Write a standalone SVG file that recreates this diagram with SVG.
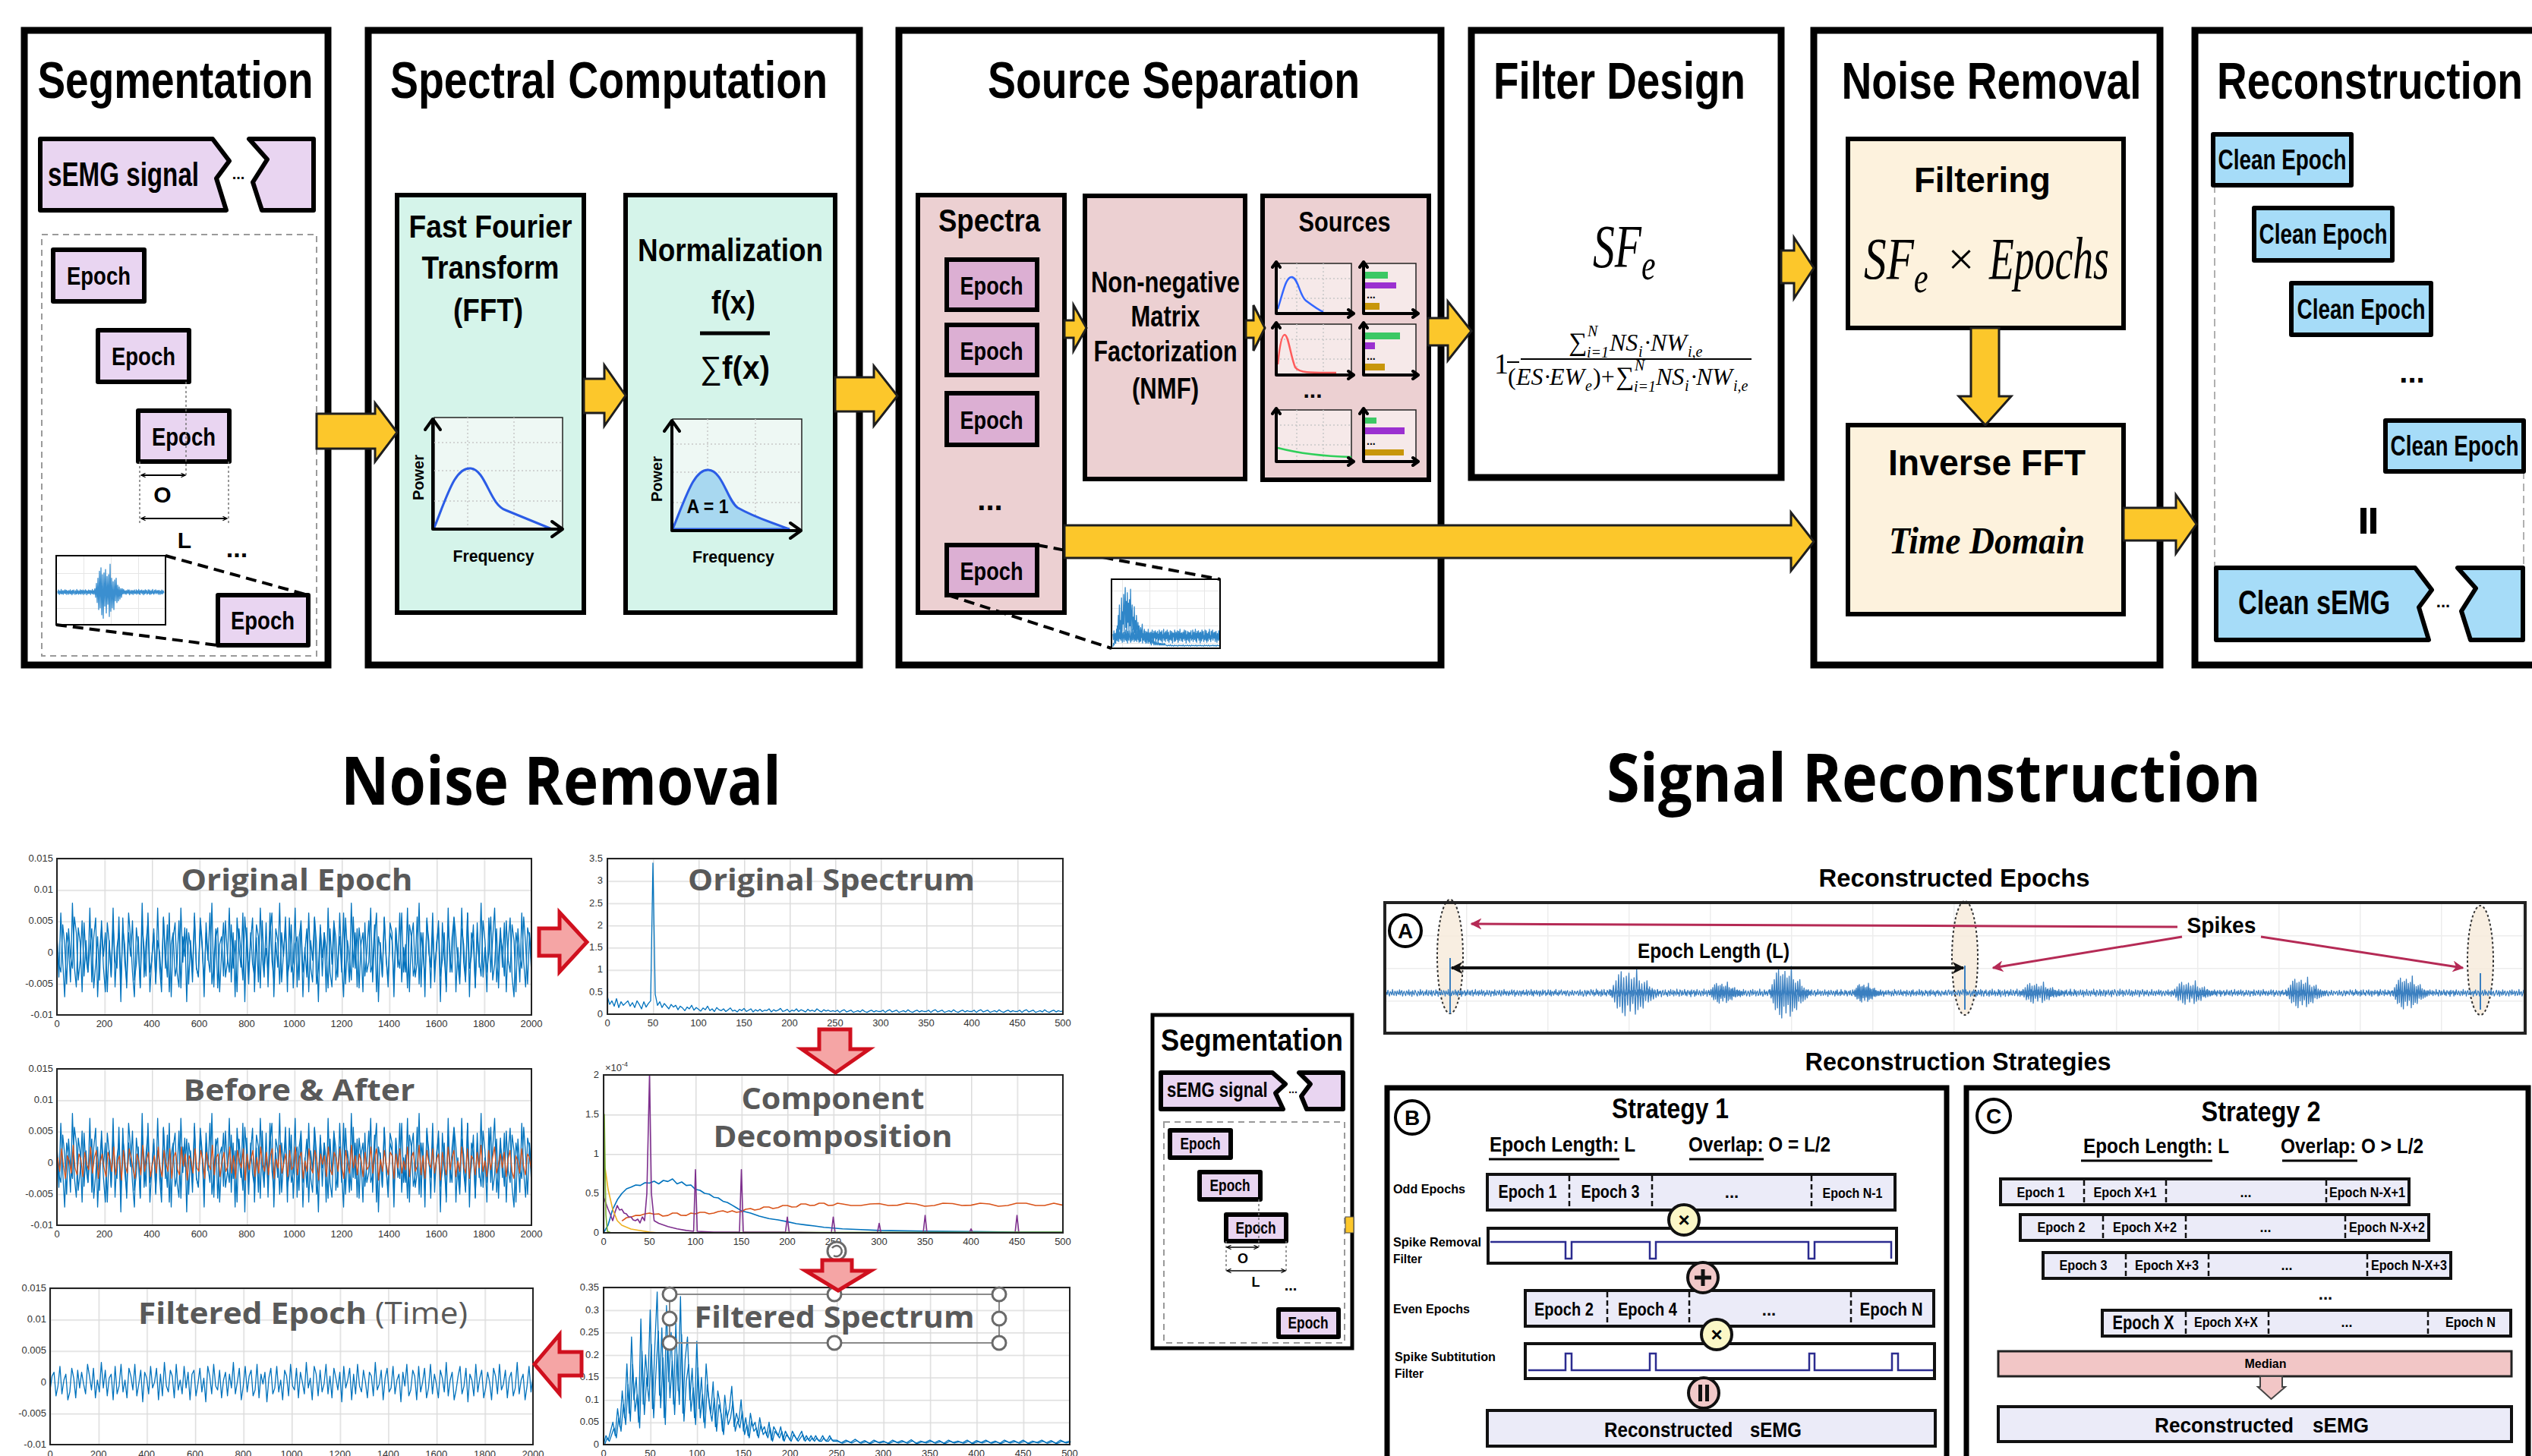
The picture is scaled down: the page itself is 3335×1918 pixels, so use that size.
<svg xmlns="http://www.w3.org/2000/svg" width="3335" height="1918" viewBox="0 0 3335 1918">
<defs>
<style>
.pn{fill:#fff;stroke:#000;stroke-width:9}
.c{font-family:"Liberation Sans",Arial,Helvetica,sans-serif;font-weight:700;fill:#000}
.ttl{font-size:68px;text-anchor:middle}
.cal{font-family:"Open Sans","Noto Sans","Liberation Sans",sans-serif;font-weight:700}
.m{font-family:"Liberation Serif","Times New Roman",serif;font-style:italic;fill:#000}
.u{font-family:"Liberation Serif","Times New Roman",serif;fill:#000}
.up{font-style:normal}
.ya{fill:#fcc72b;stroke:#1e1e1e;stroke-width:3}
.ra{fill:#f5a5a5;stroke:#d0101e;stroke-width:5}
.lav{fill:#e9d5f1;stroke:#000;stroke-width:6;stroke-linejoin:round}
.pk{fill:#ecd0d2;stroke:#000;stroke-width:6}
.pe{fill:#dcafd3;stroke:#000;stroke-width:6}
.mint{fill:#d5f4ea;stroke:#000;stroke-width:6}
.crm{fill:#fdf2dd;stroke:#000;stroke-width:6}
.sky{fill:#a6dcf8;stroke:#000;stroke-width:6;stroke-linejoin:round}
.dash{fill:none;stroke:#9a9a9a;stroke-width:2;stroke-dasharray:8 6}
.dot{stroke:#777;stroke-width:1.5;stroke-dasharray:3 3;fill:none}
.gd{stroke:#c8c8c8;stroke-width:1.5;stroke-dasharray:2 3;fill:none}
.tk{font-family:"Liberation Sans",Arial,sans-serif;font-size:13px;fill:#333}
.box{fill:none;stroke:#222;stroke-width:2}
.sig{fill:none;stroke-width:1.3;vector-effect:non-scaling-stroke;stroke-linejoin:round}
.ln{fill:none;stroke-width:1.6;stroke-linejoin:round}
.bar{fill:#ebebf8;stroke:#111;stroke-width:4}
.dv{stroke:#111;stroke-width:2.5;stroke-dasharray:7 4}
.ptl{font-family:"Open Sans","Noto Sans","Liberation Sans",sans-serif;font-weight:700;font-size:40px;fill:#595959}
.axk{fill:none;stroke:#000;stroke-width:4;stroke-linecap:round;stroke-linejoin:round}
.mini{fill:#f6e9e9;stroke:#222;stroke-width:1.5}
.pulse{fill:none;stroke:#2b2b8f;stroke-width:2.5}
.hd{fill:#fff;stroke:#6a6a6a;stroke-width:3}
</style>
<marker id="mr" viewBox="0 0 10 10" refX="9" refY="5" markerWidth="5" markerHeight="5" orient="auto-start-reverse"><path d="M0,0 L10,5 L0,10 L3,5 z" fill="#b52a55"/></marker>
<marker id="mb" viewBox="0 0 10 10" refX="9" refY="5" markerWidth="4" markerHeight="4" orient="auto-start-reverse"><path d="M0,0 L10,5 L0,10 L3,5 z" fill="#111"/></marker>
<marker id="mo" viewBox="0 0 10 10" refX="9" refY="5" markerWidth="7" markerHeight="7" orient="auto-start-reverse" markerUnits="userSpaceOnUse"><path d="M1,1 L9,5 L1,9" fill="none" stroke="#000" stroke-width="1.6"/></marker>
<pattern id="g1" patternUnits="userSpaceOnUse" x="75" y="1131" width="62.5" height="41.2"><path d="M0,0V41.2M0,0H62.5" stroke="#dcdcdc" stroke-width="3" fill="none"/></pattern>
<pattern id="g3" patternUnits="userSpaceOnUse" x="75" y="1408" width="62.5" height="41.2"><path d="M0,0V41.2M0,0H62.5" stroke="#dcdcdc" stroke-width="3" fill="none"/></pattern>
<pattern id="g6" patternUnits="userSpaceOnUse" x="66" y="1697" width="63.6" height="41.2"><path d="M0,0V41.2M0,0H63.6" stroke="#dcdcdc" stroke-width="3" fill="none"/></pattern>
<pattern id="g2" patternUnits="userSpaceOnUse" x="800" y="1131" width="60" height="29.286"><path d="M0,0V29.3M0,0H60" stroke="#dcdcdc" stroke-width="3" fill="none"/></pattern>
<pattern id="g4" patternUnits="userSpaceOnUse" x="795" y="1416" width="60.5" height="52"><path d="M0,0V52M0,0H60.5" stroke="#dcdcdc" stroke-width="3" fill="none"/></pattern>
<pattern id="g5" patternUnits="userSpaceOnUse" x="795" y="1696" width="61.4" height="29.571"><path d="M0,0V29.6M0,0H61.4" stroke="#dcdcdc" stroke-width="3" fill="none"/></pattern>
<pattern id="gA" patternUnits="userSpaceOnUse" x="1824" y="1189" width="107" height="43"><path d="M0,0V43M0,0H107" stroke="#ededed" stroke-width="3" fill="none"/></pattern>
<pattern id="gt" patternUnits="userSpaceOnUse" x="74" y="732" width="36" height="23"><path d="M0,0V23M0,0H36" stroke="#e6e6e6" stroke-width="2" fill="none"/></pattern>
<clipPath id="clipThumb"><rect x="1464" y="763" width="143" height="91"/></clipPath>
<!-- noise sequence, x = sample index, y = amplitude -->
<polyline id="nA" class="sig" points="0,3 1,-5 2,8 3,-2 4,-9 5,4 6,1 7,-6 8,10 9,-3 10,-7 11,5 12,2 13,-8 14,6 15,-1 16,-4 17,9 18,-6 19,3 20,7 21,-9 22,0 23,5 24,-3 25,-8 26,6 27,2 28,-5 29,9 30,-7 31,1 32,4 33,-10 34,7 35,-2 36,-6 37,8 38,3 39,-4 40,-9 41,5 42,1 43,-7 44,10 45,-5 46,2 47,6 48,-8 49,-1 50,4 51,-6 52,9 53,-3 54,-8 55,7 56,0 57,-5 58,8 59,-9 60,3 61,6 62,-4 63,-7 64,9 65,-2 66,5 67,-10 68,4 69,1 70,-6 71,8 72,-3 73,-5 74,7 75,2 76,-9 77,6 78,-1 79,-4 80,10 81,-7 82,3 83,5 84,-8 85,0 86,6 87,-5 88,-2 89,9 90,-6 91,4 92,-9 93,7 94,1 95,-3 96,8 97,-10 98,5 99,-4 100,2 101,7 102,-8 103,3 104,-6 105,9 106,-1 107,-5 108,6 109,-7 110,4 111,8 112,-9 113,2 114,-3 115,10 116,-6 117,0 118,5 119,-8 120,7 121,-4 122,-2 123,9 124,-7 125,3 126,6 127,-9 128,1 129,-5 130,8 131,-3 132,-6 133,7 134,2 135,-10 136,5 137,-1 138,4 139,-8 140,9 141,-4 142,-7 143,6 144,3 145,-5 146,8 147,-2 148,-9 149,7 150,0 151,-6 152,10 153,-3 154,4 155,-7 156,5 157,1 158,-8 159,6 160,-4 161,-2 162,9 163,-6 164,3 165,8 166,-10 167,2 168,-5 169,7 170,-1 171,-7 172,6 173,4 174,-9 175,5 176,-3 177,8 178,-6 179,1 180,-4 181,9 182,-8 183,3 184,6 185,-5 186,-2 187,10 188,-7 189,4 190,-9 191,7 192,0 193,-3 194,8 195,-6 196,2 197,5 198,-10 199,6 200,-1 201,-7 202,9 203,-4 204,3 205,7 206,-8 207,1 208,-5 209,9 210,-2 211,-6 212,8 213,-9 214,4 215,2 216,-7 217,6 218,-3 219,10 220,-5 221,1 222,-8 223,7 224,-4 225,3 226,9 227,-6 228,-1 229,5 230,-3 231,6 232,-8 233,2 234,7 235,-5 236,-9 237,4 238,1 239,-6 240,8 241,-2 242,-7 243,5 244,3 245,-4"/>
<!-- short burst -->
<polyline id="bB" class="sig" points="0,0 1,2 2,-3 3,5 4,-6 5,8 6,-10 7,12 8,-9 9,14 10,-13 11,10 12,-15 13,11 14,-8 15,13 16,-12 17,9 18,-7 19,10 20,-14 21,16 22,-11 23,8 24,-9 25,6 26,-10 27,7 28,-5 29,8 30,-6 31,4 32,-5 33,3 34,-4 35,2 36,-3 37,2 38,-1 39,1 40,0"/>
<!-- raw magnitude spectrum, bin = 2.5 Hz, value in 0.01 units -->
<polyline id="sO" class="sig" points="0,40 1,22 2,30 3,18 4,35 5,15 6,28 7,20 8,25 9,30 10,18 11,26 12,15 13,30 14,22 15,12 16,28 17,16 18,24 19,30 20,340 21,45 22,20 23,28 24,15 25,24 26,18 27,12 28,22 29,16 30,20 31,10 32,18 33,14 34,8 35,16 36,12 37,20 38,9 39,15 40,11 41,7 42,14 43,10 44,18 45,8 46,12 47,6 48,15 49,10 50,8 51,12 52,6 53,10 54,14 55,7 56,9 57,5 58,11 59,8 60,13 61,6 62,9 63,12 64,5 65,10 66,7 67,11 68,6 69,9 70,8 71,12 72,5 73,10 74,7 75,9 76,13 77,6 78,8 79,11 80,5 81,9 82,7 83,12 84,6 85,10 86,8 87,5 88,11 89,7 90,9 91,6 92,12 93,8 94,5 95,10 96,7 97,9 98,6 99,8 100,6 101,9 102,4 103,8 104,10 105,5 106,7 107,9 108,4 109,6 110,8 111,5 112,10 113,6 114,4 115,7 116,9 117,5 118,8 119,6 120,6 121,9 122,4 123,8 124,10 125,5 126,7 127,9 128,4 129,6 130,8 131,5 132,10 133,6 134,4 135,7 136,9 137,5 138,8 139,6 140,6 141,9 142,4 143,8 144,10 145,5 146,7 147,9 148,4 149,6 150,8 151,5 152,10 153,6 154,4 155,7 156,9 157,5 158,8 159,6 160,6 161,9 162,4 163,8 164,10 165,5 166,7 167,9 168,4 169,6 170,8 171,5 172,10 173,6 174,4 175,7 176,9 177,5 178,8 179,6 180,6 181,9 182,4 183,8 184,10 185,5 186,7 187,9 188,4 189,6 190,8 191,5 192,10 193,6 194,4 195,7 196,9 197,5 198,8 199,6 200,7"/>
<!-- filtered spectrum -->
<polyline id="sF" class="sig" points="0,0 1,2 2,1 3,3 4,5 5,2 6,8 7,4 8,12 9,6 10,18 11,7 12,24 13,10 14,15 15,5 16,28 17,9 18,20 19,13 20,30 21,8 22,22 23,34 24,11 25,26 26,6 27,31 28,14 29,25 30,9 31,27 32,12 33,33 34,7 35,19 36,24 37,10 38,17 39,6 40,23 41,8 42,15 43,5 44,18 45,11 46,7 47,14 48,4 49,12 50,9 51,3 52,11 53,6 54,8 55,13 56,4 57,7 58,5 59,10 60,3 61,6 62,2 63,7 64,4 65,5 66,2 67,6 68,3 69,4 70,2 71,5 72,1 73,4 74,3 75,2 76,4 77,1 78,3 79,2 80,1 81,3 82,2 83,1 84,2 85,3 86,1 87,2 88,1 89,2 90,1 91,2 92,1 93,1 94,2 95,1 96,1 97,2 98,1 99,1 100,1 102,0.4 104,1 106,0.5 108,1.2 110,0.4 112,0.9 114,0.3 116,1 118,0.5 120,0.8 122,0.3 124,1 126,0.5 128,0.9 130,0.4 132,1.1 134,0.3 136,0.8 138,0.5 140,1 142,0.4 144,0.9 146,0.3 148,1 150,0.5 152,0.8 154,0.4 156,1 158,0.3 160,0.9 162,0.5 164,1 166,0.4 168,0.8 170,0.3 172,1 174,0.5 176,0.9 178,0.4 180,1 182,0.3 184,0.8 186,0.5 188,1 190,0.4 192,0.9 194,0.3 196,1 198,0.5 200,0.8"/>
</defs>

<rect width="3335" height="1918" fill="#fff"/>

<!-- ===== top pipeline ===== -->
<g id="segmentation">
  <rect class="pn" x="32" y="40" width="400" height="836"/>
  <text class="c ttl" x="231" y="129" textLength="363" lengthAdjust="spacingAndGlyphs">Segmentation</text>
  <path class="lav" d="M53,183 H280 L302,212 L285,235 L298,277 H53 Z"/>
  <path class="lav" d="M328,183 H413 V277 H345 L333,240 L352,210 Z"/>
  <text class="c" font-size="44" transform="translate(63,245) scale(0.754,1)">sEMG signal</text>
  <text class="c" x="314" y="236" font-size="20" text-anchor="middle">...</text>
  <rect class="dash" x="55" y="309" width="362" height="555"/>
  <g id="seg-epochs">
    <rect class="lav" x="70" y="329" width="120" height="68"/>
    <text class="c" x="130" y="375" font-size="34" text-anchor="middle" textLength="84" lengthAdjust="spacingAndGlyphs">Epoch</text>
    <rect class="lav" x="129" y="435" width="120" height="68"/>
    <text class="c" x="189" y="481" font-size="34" text-anchor="middle" textLength="84" lengthAdjust="spacingAndGlyphs">Epoch</text>
    <rect class="lav" x="182" y="541" width="120" height="67"/>
    <text class="c" x="242" y="587" font-size="34" text-anchor="middle" textLength="84" lengthAdjust="spacingAndGlyphs">Epoch</text>
    <rect class="lav" x="287" y="784" width="119" height="66"/>
    <text class="c" x="346" y="829" font-size="34" text-anchor="middle" textLength="84" lengthAdjust="spacingAndGlyphs">Epoch</text>
  </g>
  <path class="dot" d="M245,503V626 M184,608V690 M301,608V690"/>
  <line x1="186" y1="626" x2="244" y2="626" stroke="#000" stroke-width="2" marker-start="url(#mo)" marker-end="url(#mo)"/>
  <text class="c" x="214" y="662" font-size="30" text-anchor="middle" font-weight="400">O</text>
  <line x1="186" y1="683" x2="299" y2="683" stroke="#000" stroke-width="2" marker-start="url(#mo)" marker-end="url(#mo)"/>
  <text class="c" x="243" y="722" font-size="30" text-anchor="middle">L</text>
  <text class="c" x="312" y="734" font-size="34" text-anchor="middle">...</text>
  <g id="seg-thumb">
    <rect x="74" y="732" width="144" height="91" fill="url(#gt)"/>
    <use href="#nA" stroke="#3b8fd0" transform="translate(76,780) scale(0.571,-0.35)"/>
    <use href="#bB" stroke="#3b8fd0" transform="translate(124,780) scale(1.0,-2.3)"/>
    <rect x="74" y="732" width="144" height="91" fill="none" stroke="#000" stroke-width="2"/>
  </g>
  <path d="M218,732 L406,784 M74,823 L287,850" stroke="#000" stroke-width="4" stroke-dasharray="14 8" fill="none"/>
</g>

<g id="spectral-computation">
  <rect class="pn" x="485" y="40" width="647" height="836"/>
  <text class="c ttl" x="802" y="129" textLength="576" lengthAdjust="spacingAndGlyphs">Spectral Computation</text>
  <g id="fft">
    <rect class="mint" x="523" y="257" width="246" height="550"/>
    <text class="c" x="646" y="313" font-size="42" text-anchor="middle" textLength="215" lengthAdjust="spacingAndGlyphs">Fast Fourier</text>
    <text class="c" x="646" y="367" font-size="42" text-anchor="middle" textLength="181" lengthAdjust="spacingAndGlyphs">Transform</text>
    <text class="c" x="643" y="423" font-size="42" text-anchor="middle" textLength="92" lengthAdjust="spacingAndGlyphs">(FFT)</text>
    <rect x="572" y="550" width="169" height="147" fill="#eef8f4" stroke="#222" stroke-width="1.5"/>
    <path class="gd" d="M616,550V697 M677,550V697 M572,583H741 M572,620H741 M572,660H741"/>
    <path d="M572,695 C590,650 600,615 620,617 C640,619 645,665 666,672 C690,682 710,690 727,697" fill="none" stroke="#2b5ce6" stroke-width="3"/>
    <path class="axk" d="M570,697V553 M560,566L570,552L580,566 M570,697H740 M727,687L741,697L727,707"/>
    <text class="c" transform="translate(558,629) rotate(-90)" font-size="20" text-anchor="middle">Power</text>
    <text class="c" x="650" y="740" font-size="22" text-anchor="middle" textLength="107" lengthAdjust="spacingAndGlyphs">Frequency</text>
  </g>
  <g id="normalization">
    <rect class="mint" x="824" y="257" width="276" height="550"/>
    <text class="c" x="962" y="344" font-size="42" text-anchor="middle" textLength="244" lengthAdjust="spacingAndGlyphs">Normalization</text>
    <text class="c" x="966" y="413" font-size="42" text-anchor="middle" textLength="58" lengthAdjust="spacingAndGlyphs">f(x)</text>
    <line x1="922" y1="439" x2="1014" y2="439" stroke="#000" stroke-width="5"/>
    <text class="c" x="968" y="499" font-size="42" text-anchor="middle" textLength="92" lengthAdjust="spacingAndGlyphs"><tspan font-weight="400">∑</tspan>f(x)</text>
    <rect x="886" y="552" width="170" height="147" fill="#eef8f4" stroke="#222" stroke-width="1.5"/>
    <path class="gd" d="M932,552V699 M995,552V699 M886,585H1056 M886,622H1056 M886,662H1056"/>
    <path d="M886,697 C905,650 915,618 933,619 C952,620 958,660 972,669 C995,682 1020,690 1040,697 Z" fill="#a8d8f0" stroke="#2b5ce6" stroke-width="3"/>
    <path class="axk" d="M885,699V555 M875,568L885,554L895,568 M885,699H1054 M1041,689L1055,699L1041,709"/>
    <text class="c" x="932" y="676" font-size="26" text-anchor="middle" textLength="55" lengthAdjust="spacingAndGlyphs">A = 1</text>
    <text class="c" transform="translate(872,631) rotate(-90)" font-size="20" text-anchor="middle">Power</text>
    <text class="c" x="966" y="741" font-size="22" text-anchor="middle" textLength="108" lengthAdjust="spacingAndGlyphs">Frequency</text>
  </g>
</g>

<g id="source-separation">
  <rect class="pn" x="1184" y="40" width="714" height="836"/>
  <text class="c ttl" x="1546" y="129" textLength="490" lengthAdjust="spacingAndGlyphs">Source Separation</text>
  <g id="spectra">
    <rect class="pk" x="1209" y="257" width="193" height="550"/>
    <text class="c" x="1303" y="305" font-size="42" text-anchor="middle" textLength="134" lengthAdjust="spacingAndGlyphs">Spectra</text>
    <rect class="pe" x="1247" y="342" width="119" height="66"/>
    <text class="c" x="1306" y="388" font-size="34" text-anchor="middle" textLength="83" lengthAdjust="spacingAndGlyphs">Epoch</text>
    <rect class="pe" x="1247" y="428" width="119" height="66"/>
    <text class="c" x="1306" y="474" font-size="34" text-anchor="middle" textLength="83" lengthAdjust="spacingAndGlyphs">Epoch</text>
    <rect class="pe" x="1247" y="518" width="119" height="68"/>
    <text class="c" x="1306" y="565" font-size="34" text-anchor="middle" textLength="83" lengthAdjust="spacingAndGlyphs">Epoch</text>
    <text class="c" x="1304" y="672" font-size="40" text-anchor="middle">...</text>
    <rect class="pe" x="1247" y="718" width="119" height="66"/>
    <text class="c" x="1306" y="764" font-size="34" text-anchor="middle" textLength="83" lengthAdjust="spacingAndGlyphs">Epoch</text>
  </g>
  <g id="nmf">
    <rect class="pk" x="1429" y="258" width="211" height="373"/>
    <text class="c" font-size="38" text-anchor="middle" transform="translate(1535,385) scale(0.815,1)">Non-negative</text>
    <text class="c" x="1535" y="430" font-size="38" text-anchor="middle" textLength="91" lengthAdjust="spacingAndGlyphs">Matrix</text>
    <text class="c" font-size="38" text-anchor="middle" transform="translate(1535,476) scale(0.8,1)">Factorization</text>
    <text class="c" x="1535" y="525" font-size="38" text-anchor="middle" textLength="88" lengthAdjust="spacingAndGlyphs">(NMF)</text>
  </g>
  <g id="sources">
    <rect class="pk" x="1663" y="258" width="219" height="374"/>
    <text class="c" x="1771" y="305" font-size="36" text-anchor="middle" textLength="121" lengthAdjust="spacingAndGlyphs">Sources</text>
    <rect class="mini" x="1681" y="347" width="99" height="66"/>
    <rect class="mini" x="1796" y="347" width="69" height="66"/>
    <rect class="mini" x="1681" y="427" width="99" height="67"/>
    <rect class="mini" x="1796" y="427" width="69" height="67"/>
    <rect class="mini" x="1681" y="540" width="99" height="68"/>
    <rect class="mini" x="1796" y="540" width="69" height="68"/>
    <path class="gd" d="M1708,347V413 M1743,347V413 M1681,367H1780 M1681,393H1780 M1708,427V494 M1743,427V494 M1681,447H1780 M1681,473H1780 M1708,540V608 M1743,540V608 M1681,560H1780 M1681,586H1780"/>
    <path d="M1683,407 C1690,385 1694,363 1702,365 C1710,367 1712,390 1720,396 C1728,402 1736,408 1743,411" fill="none" stroke="#3366ff" stroke-width="2.5"/>
    <path d="M1683,480 C1685,460 1688,441 1692,441 C1697,441 1700,470 1706,484 C1712,492 1730,491 1760,491" fill="none" stroke="#ff5a5a" stroke-width="2.5"/>
    <path d="M1683,590 C1710,597 1740,601 1780,602" fill="none" stroke="#2fcf5a" stroke-width="2.5"/>
    <rect x="1797" y="358" width="31" height="9" fill="#3cc864"/>
    <rect x="1797" y="372" width="42" height="8" fill="#9b30d0"/>
    <rect x="1797" y="399" width="20" height="9" fill="#c8960a"/>
    <rect x="1797" y="438" width="47" height="9" fill="#3cc864"/>
    <rect x="1797" y="451" width="14" height="9" fill="#9b30d0"/>
    <rect x="1797" y="479" width="27" height="9" fill="#c8960a"/>
    <rect x="1797" y="550" width="16" height="8" fill="#3cc864"/>
    <rect x="1797" y="563" width="53" height="9" fill="#9b30d0"/>
    <rect x="1797" y="592" width="52" height="8" fill="#c8960a"/>
    <text class="c" x="1800" y="393" font-size="14">...</text>
    <text class="c" x="1800" y="474" font-size="14">...</text>
    <text class="c" x="1800" y="586" font-size="14">...</text>
    <path class="axk" stroke-width="3" d="M1681,413V346 M1676,352L1681,345L1686,352 M1681,413H1782 M1776,408L1783,413L1776,418 M1796,413V346 M1791,352L1796,345L1801,352 M1796,413H1867 M1861,408L1868,413L1861,418 M1681,494V426 M1676,432L1681,425L1686,432 M1681,494H1782 M1776,489L1783,494L1776,499 M1796,494V426 M1791,432L1796,425L1801,432 M1796,494H1867 M1861,489L1868,494L1861,499 M1681,608V539 M1676,545L1681,538L1686,545 M1681,608H1782 M1776,603L1783,608L1776,613 M1796,608V539 M1791,545L1796,538L1801,545 M1796,608H1867 M1861,603L1868,608L1861,613"/>
    <text class="c" x="1729" y="524" font-size="30" text-anchor="middle">...</text>
  </g>
  <g id="spectrum-thumb">
    <rect x="1464" y="763" width="143" height="91" fill="url(#gt)"/>
    <g clip-path="url(#clipThumb)">
      <use href="#sF" stroke="#2f86c8" transform="translate(1466,852) scale(0.7,-2.3)"/>
      <use href="#nA" stroke="#2f86c8" transform="translate(1466,838) scale(0.58,-0.9)"/>
    </g>
    <rect x="1464" y="763" width="143" height="91" fill="none" stroke="#000" stroke-width="2"/>
  </g>
  <path d="M1366,718 L1607,763 M1249,784 L1464,854" stroke="#000" stroke-width="4" stroke-dasharray="14 8" fill="none"/>
</g>

<g id="filter-design">
  <rect class="pn" x="1938" y="40" width="408" height="589"/>
  <text class="c ttl" x="2133" y="130" textLength="332" lengthAdjust="spacingAndGlyphs">Filter Design</text>
  <text class="m" font-size="80" transform="translate(2098,352) scale(0.72,1)">SF<tspan font-size="58" dy="16">e</tspan></text>
  <g id="sf-formula">
    <text class="u" x="1968" y="492" font-size="38">1</text>
    <line x1="1985" y1="477" x2="2001" y2="477" stroke="#000" stroke-width="2"/>
    <line x1="2003" y1="473" x2="2307" y2="473" stroke="#000" stroke-width="2"/>
    <text class="m" font-size="32"><tspan class="up" x="2066" y="462" font-size="34">∑</tspan><tspan x="2091" y="443" font-size="20">N</tspan><tspan x="2090" y="471" font-size="20">i=1</tspan><tspan x="2120" y="462">NS</tspan><tspan x="2158" y="470" font-size="20">i</tspan><tspan class="up" x="2165" y="462">·</tspan><tspan x="2174" y="462">NW</tspan><tspan x="2223" y="470" font-size="20">i,e</tspan></text>
    <text class="m" font-size="32"><tspan class="up" x="1986" y="507">(</tspan><tspan x="1997" y="507">ES</tspan><tspan class="up" x="2033" y="507">·</tspan><tspan x="2041" y="507">EW</tspan><tspan x="2088" y="515" font-size="20">e</tspan><tspan class="up" x="2098" y="507">)+</tspan><tspan class="up" x="2128" y="507" font-size="34">∑</tspan><tspan x="2153" y="488" font-size="20">N</tspan><tspan x="2152" y="516" font-size="20">i=1</tspan><tspan x="2181" y="507">NS</tspan><tspan x="2219" y="515" font-size="20">i</tspan><tspan class="up" x="2226" y="507">·</tspan><tspan x="2234" y="507">NW</tspan><tspan x="2283" y="515" font-size="20">i,e</tspan></text>
  </g>
</g>

<g id="noise-removal">
  <rect class="pn" x="2389" y="40" width="456" height="836"/>
  <text class="c ttl" x="2623" y="130" textLength="395" lengthAdjust="spacingAndGlyphs">Noise Removal</text>
  <g id="filtering">
    <rect class="crm" x="2434" y="183" width="363" height="249"/>
    <text class="c" x="2611" y="253" font-size="46" text-anchor="middle" textLength="180" lengthAdjust="spacingAndGlyphs">Filtering</text>
    <text class="m" font-size="78" transform="translate(2455,367) scale(0.76,1)">SF<tspan font-size="56" dy="18">e</tspan></text>
    <text class="u" x="2583" y="362" font-size="62" text-anchor="middle">×</text>
    <text class="m" font-size="78" transform="translate(2620,367) scale(0.688,1)">Epochs</text>
  </g>
  <g id="inverse-fft">
    <rect class="crm" x="2434" y="560" width="363" height="249"/>
    <text class="c" x="2617" y="626" font-size="48" text-anchor="middle" textLength="260" lengthAdjust="spacingAndGlyphs">Inverse FFT</text>
    <text class="m" x="2617" y="729" font-size="50" font-weight="700" text-anchor="middle" textLength="258" lengthAdjust="spacingAndGlyphs">Time Domain</text>
  </g>
</g>

<g id="reconstruction">
  <rect class="pn" x="2891" y="40" width="470" height="836"/>
  <text class="c" font-size="68" transform="translate(2920,130) scale(0.808,1)">Reconstruction</text>
  <path d="M2917,244V746 M3324,621V746" stroke="#b0b0b0" stroke-width="2" stroke-dasharray="10 6" fill="none"/>
  <rect class="sky" x="2915" y="177" width="182" height="67"/>
  <text class="c" font-size="36" text-anchor="middle" transform="translate(3006,223) scale(0.775,1)">Clean Epoch</text>
  <rect class="sky" x="2969" y="274" width="182" height="69"/>
  <text class="c" font-size="36" text-anchor="middle" transform="translate(3060,321) scale(0.775,1)">Clean Epoch</text>
  <rect class="sky" x="3018" y="373" width="184" height="68"/>
  <text class="c" font-size="36" text-anchor="middle" transform="translate(3110,420) scale(0.775,1)">Clean Epoch</text>
  <text class="c" x="3177" y="504" font-size="40" text-anchor="middle">...</text>
  <rect class="sky" x="3142" y="554" width="182" height="67"/>
  <text class="c" font-size="36" text-anchor="middle" transform="translate(3233,600) scale(0.775,1)">Clean Epoch</text>
  <rect x="3109" y="669" width="8" height="34" fill="#000"/>
  <rect x="3122" y="669" width="8" height="34" fill="#000"/>
  <path class="sky" d="M2919,748 H3181 L3203,777 L3186,800 L3199,843 H2919 Z"/>
  <path class="sky" d="M3237,748 H3323 V843 H3254 L3242,805 L3261,775 Z"/>
  <text class="c" font-size="44" transform="translate(2948,809) scale(0.78,1)">Clean sEMG</text>
  <text class="c" x="3218" y="800" font-size="22" text-anchor="middle">...</text>
</g>

<!-- ===== bottom-left: noise removal plots ===== -->
<text class="cal" x="739" y="1060" font-size="88" text-anchor="middle" textLength="580" lengthAdjust="spacingAndGlyphs">Noise Removal</text>

<g id="plot-original-epoch">
  <rect x="75" y="1131" width="625" height="206" fill="url(#g1)"/>
  <use href="#nA" stroke="#0072bd" transform="translate(75,1254.6) scale(2.551,-6.5)"/>
  <use href="#nA" stroke="#0072bd" transform="translate(700,1254.6) scale(-2.551,5.2)"/>
  <rect class="box" x="75" y="1131" width="625" height="206"/>
  <text class="tk" text-anchor="middle"><tspan x="75" y="1353">0</tspan><tspan x="137.5" y="1353">200</tspan><tspan x="200" y="1353">400</tspan><tspan x="262.5" y="1353">600</tspan><tspan x="325" y="1353">800</tspan><tspan x="387.5" y="1353">1000</tspan><tspan x="450" y="1353">1200</tspan><tspan x="512.5" y="1353">1400</tspan><tspan x="575" y="1353">1600</tspan><tspan x="637.5" y="1353">1800</tspan><tspan x="700" y="1353">2000</tspan></text>
  <text class="tk" text-anchor="end"><tspan x="70" y="1135">0.015</tspan><tspan x="70" y="1176">0.01</tspan><tspan x="70" y="1217">0.005</tspan><tspan x="70" y="1259">0</tspan><tspan x="70" y="1300">-0.005</tspan><tspan x="70" y="1341">-0.01</tspan></text>
  <text class="ptl" x="391" y="1173" text-anchor="middle" textLength="305" lengthAdjust="spacingAndGlyphs">Original Epoch</text>
</g>

<g id="plot-original-spectrum">
  <rect x="800" y="1131" width="600" height="205" fill="url(#g2)"/>
  <use href="#sO" stroke="#0072bd" transform="translate(800,1336) scale(3,-0.5857)"/>
  <rect class="box" x="800" y="1131" width="600" height="205"/>
  <text class="tk" text-anchor="middle"><tspan x="800" y="1352">0</tspan><tspan x="860" y="1352">50</tspan><tspan x="920" y="1352">100</tspan><tspan x="980" y="1352">150</tspan><tspan x="1040" y="1352">200</tspan><tspan x="1100" y="1352">250</tspan><tspan x="1160" y="1352">300</tspan><tspan x="1220" y="1352">350</tspan><tspan x="1280" y="1352">400</tspan><tspan x="1340" y="1352">450</tspan><tspan x="1400" y="1352">500</tspan></text>
  <text class="tk" text-anchor="end"><tspan x="794" y="1135">3.5</tspan><tspan x="794" y="1164">3</tspan><tspan x="794" y="1194">2.5</tspan><tspan x="794" y="1223">2</tspan><tspan x="794" y="1252">1.5</tspan><tspan x="794" y="1281">1</tspan><tspan x="794" y="1311">0.5</tspan><tspan x="794" y="1340">0</tspan></text>
  <text class="ptl" x="1095" y="1173" text-anchor="middle" textLength="378" lengthAdjust="spacingAndGlyphs">Original Spectrum</text>
</g>

<g id="plot-before-after">
  <rect x="75" y="1408" width="625" height="206" fill="url(#g3)"/>
  <use href="#nA" stroke="#0072bd" transform="translate(75,1531.6) scale(2.551,-6.5)"/>
  <use href="#nA" stroke="#0072bd" transform="translate(700,1531.6) scale(-2.551,5.2)"/>
  <use href="#nA" stroke="#d95319" transform="translate(76,1531.6) scale(2.546,-2.3)"/>
  <rect class="box" x="75" y="1408" width="625" height="206"/>
  <text class="tk" text-anchor="middle"><tspan x="75" y="1630">0</tspan><tspan x="137.5" y="1630">200</tspan><tspan x="200" y="1630">400</tspan><tspan x="262.5" y="1630">600</tspan><tspan x="325" y="1630">800</tspan><tspan x="387.5" y="1630">1000</tspan><tspan x="450" y="1630">1200</tspan><tspan x="512.5" y="1630">1400</tspan><tspan x="575" y="1630">1600</tspan><tspan x="637.5" y="1630">1800</tspan><tspan x="700" y="1630">2000</tspan></text>
  <text class="tk" text-anchor="end"><tspan x="70" y="1412">0.015</tspan><tspan x="70" y="1453">0.01</tspan><tspan x="70" y="1494">0.005</tspan><tspan x="70" y="1536">0</tspan><tspan x="70" y="1577">-0.005</tspan><tspan x="70" y="1618">-0.01</tspan></text>
  <text class="ptl" x="394" y="1450" text-anchor="middle" textLength="305" lengthAdjust="spacingAndGlyphs">Before &amp; After</text>
</g>

<g id="plot-components">
  <rect x="795" y="1416" width="605" height="208" fill="url(#g4)"/>
  <polyline class="ln" stroke="#0072bd" points="795,1624 801,1613.6 807.1,1592.8 813.2,1580.3 819.2,1572 825.3,1566 831.3,1563.7 837.4,1561 843.4,1561.6 849.5,1558 855.5,1558.5 861.6,1556 867.6,1559.5 873.7,1555 879.7,1556.4 885.8,1553 891.8,1559.5 897.9,1557 903.9,1561.6 910,1561 916,1566.8 922,1568 928.1,1572 934,1573 940.2,1577.2 946,1578 952.3,1582.4 958,1584 964.4,1587.6 970,1591 976.5,1594.9 988.6,1598 1000,1602 1012.8,1605.3 1025,1607 1037,1609.4 1049,1612 1061.2,1613.6 1073,1615 1085.4,1616.7 1109.6,1618.8 1133.8,1619.8 1158,1620.9 1218.5,1621.9 1279,1622.4 1339.5,1623 1400,1623"/>
  <polyline class="ln" stroke="#d95319" points="819.2,1608.4 825.3,1604 831.3,1603.2 837.4,1601 843.4,1601.1 849.5,1599 855.5,1598 861.6,1599.5 867.6,1599 873,1602 879.7,1601.1 885.8,1598 891.8,1598 897,1601 903.9,1601.1 910,1598 916,1599 922,1597 928.1,1597 934,1599 940.2,1598 946,1596 952.3,1595 958,1597 964.4,1594.9 970,1597 976.5,1596 982,1593 988.6,1592 994,1594 1000.7,1592.8 1006,1590 1012.8,1590 1018,1592 1024.9,1590.7 1031,1588 1037,1588 1043,1590 1049.1,1589.7 1055,1586 1061.2,1586 1067,1588 1073.3,1587.6 1079,1585 1085.4,1585 1091,1588 1097.5,1587.6 1103,1585 1109.6,1586 1121,1588 1133.8,1588 1146,1586 1158,1585.5 1170,1588 1182.2,1587.6 1194,1585 1206.4,1586 1218,1589 1230.6,1588 1242,1585 1254.8,1585.5 1267,1588 1279,1587.6 1291,1585 1303.2,1586 1315,1589 1327.4,1588 1339,1585 1351.6,1585 1364,1588 1375.8,1588 1388,1585 1400,1587.6"/>
  <polyline class="ln" stroke="#7e2f8e" points="795,1577 798,1585 801,1593 804,1600 807,1608 810,1597 813,1588 816,1594 819,1593 822,1598 825,1599 828,1603 831,1603 834,1607 837,1608 840,1606 843,1611 846,1603 849,1608 852,1572 855.5,1416 858,1572 861.6,1608 867.6,1611.5 879.7,1615.7 891.8,1618.8 903.9,1620.9 913.6,1622 916,1540.8 918.4,1622 940,1623 974,1623 976.5,1540.8 979,1623 1034.6,1623 1037,1603.2 1039.4,1623 1095,1624 1097.5,1603.2 1100,1624 1155.6,1624 1158,1611.5 1160.4,1624 1216,1624 1218.5,1601 1221,1624 1276.6,1624 1279,1618.8 1281.4,1624 1337,1624 1339.5,1601 1342,1624 1400,1624"/>
  <polyline class="ln" stroke="#edb120" points="795,1536 797.4,1541 801,1567 807,1593 813,1608 819,1614 831,1619 843,1621 855.5,1623 867.6,1624"/>
  <polyline class="ln" stroke="#77ac30" points="795,1624 796,1468 798,1600 800,1622 805,1624 1400,1623"/>
  <rect class="box" x="795" y="1416" width="605" height="208"/>
  <text class="tk" text-anchor="middle"><tspan x="795" y="1640">0</tspan><tspan x="855.5" y="1640">50</tspan><tspan x="916" y="1640">100</tspan><tspan x="976.5" y="1640">150</tspan><tspan x="1037" y="1640">200</tspan><tspan x="1097.5" y="1640">250</tspan><tspan x="1158" y="1640">300</tspan><tspan x="1218.5" y="1640">350</tspan><tspan x="1279" y="1640">400</tspan><tspan x="1339.5" y="1640">450</tspan><tspan x="1400" y="1640">500</tspan></text>
  <text class="tk" text-anchor="end"><tspan x="789" y="1420">2</tspan><tspan x="789" y="1472">1.5</tspan><tspan x="789" y="1524">1</tspan><tspan x="789" y="1576">0.5</tspan><tspan x="789" y="1628">0</tspan></text>
  <text class="tk" x="797" y="1411" font-size="12">×10<tspan font-size="9" dy="-6">-4</tspan></text>
  <text class="ptl" x="1097" y="1461" font-size="37" text-anchor="middle" textLength="241" lengthAdjust="spacingAndGlyphs">Component</text>
  <text class="ptl" x="1097" y="1511" font-size="37" text-anchor="middle" textLength="315" lengthAdjust="spacingAndGlyphs">Decomposition</text>
</g>

<g id="plot-filtered-spectrum">
  <rect x="795" y="1696" width="614" height="207" fill="url(#g5)"/>
  <use href="#sF" stroke="#0072bd" transform="translate(795,1903) scale(3.07,-5.914)"/>
  <use href="#sF" stroke="#0072bd" transform="translate(796.5,1903) scale(3.07,-4.4)"/>
  <rect class="box" x="795" y="1696" width="614" height="207"/>
  <text class="tk" text-anchor="middle"><tspan x="795" y="1919">0</tspan><tspan x="856.4" y="1919">50</tspan><tspan x="917.8" y="1919">100</tspan><tspan x="979.2" y="1919">150</tspan><tspan x="1040.6" y="1919">200</tspan><tspan x="1102" y="1919">250</tspan><tspan x="1163.4" y="1919">300</tspan><tspan x="1224.8" y="1919">350</tspan><tspan x="1286.2" y="1919">400</tspan><tspan x="1347.6" y="1919">450</tspan><tspan x="1409" y="1919">500</tspan></text>
  <text class="tk" text-anchor="end"><tspan x="789" y="1700">0.35</tspan><tspan x="789" y="1730">0.3</tspan><tspan x="789" y="1759">0.25</tspan><tspan x="789" y="1789">0.2</tspan><tspan x="789" y="1818">0.15</tspan><tspan x="789" y="1848">0.1</tspan><tspan x="789" y="1877">0.05</tspan><tspan x="789" y="1907">0</tspan></text>
  <text class="ptl" x="1099" y="1749" text-anchor="middle" textLength="369" lengthAdjust="spacingAndGlyphs">Filtered Spectrum</text>
  <g id="selection-handles">
    <rect x="882" y="1705" width="434" height="64" fill="none" stroke="#8a8a8a" stroke-width="2"/>
    <line x1="1101" y1="1660" x2="1099" y2="1705" stroke="#8a8a8a" stroke-width="2"/>
    <circle cx="1102" cy="1648" r="12" fill="#fff" stroke="#6a6a6a" stroke-width="3"/>
    <path d="M1096,1644 A7,7 0 1 1 1098,1654" fill="none" stroke="#6a6a6a" stroke-width="2.5"/>
    <circle class="hd" cx="882" cy="1705" r="9"/><circle class="hd" cx="1099" cy="1705" r="9"/><circle class="hd" cx="1316" cy="1705" r="9"/>
    <circle class="hd" cx="882" cy="1737" r="9"/><circle class="hd" cx="1316" cy="1737" r="9"/>
    <circle class="hd" cx="882" cy="1769" r="9"/><circle class="hd" cx="1099" cy="1769" r="9"/><circle class="hd" cx="1316" cy="1769" r="9"/>
  </g>
</g>

<g id="plot-filtered-epoch">
  <rect x="66" y="1697" width="636" height="206" fill="url(#g6)"/>
  <use href="#nA" stroke="#0072bd" transform="translate(702,1820.6) scale(-2.596,-2.6)"/>
  <rect class="box" x="66" y="1697" width="636" height="206"/>
  <text class="tk" text-anchor="middle"><tspan x="66" y="1920">0</tspan><tspan x="129.6" y="1920">200</tspan><tspan x="193.2" y="1920">400</tspan><tspan x="256.8" y="1920">600</tspan><tspan x="320.4" y="1920">800</tspan><tspan x="384" y="1920">1000</tspan><tspan x="447.6" y="1920">1200</tspan><tspan x="511.2" y="1920">1400</tspan><tspan x="574.8" y="1920">1600</tspan><tspan x="638.4" y="1920">1800</tspan><tspan x="702" y="1920">2000</tspan></text>
  <text class="tk" text-anchor="end"><tspan x="61" y="1701">0.015</tspan><tspan x="61" y="1742">0.01</tspan><tspan x="61" y="1783">0.005</tspan><tspan x="61" y="1825">0</tspan><tspan x="61" y="1866">-0.005</tspan><tspan x="61" y="1907">-0.01</tspan></text>
  <text class="ptl" x="182" y="1744" textLength="434" lengthAdjust="spacingAndGlyphs">Filtered Epoch <tspan font-weight="400">(Time)</tspan></text>
</g>

<!-- ===== bottom-right: signal reconstruction ===== -->
<text class="cal" x="2547" y="1056" font-size="88" text-anchor="middle" textLength="862" lengthAdjust="spacingAndGlyphs">Signal Reconstruction</text>

<g id="segmentation-small">
  <rect x="1518" y="1337" width="263" height="439" fill="#fff" stroke="#000" stroke-width="5"/>
  <text class="c" x="1649" y="1384" font-size="40" text-anchor="middle" textLength="240" lengthAdjust="spacingAndGlyphs">Segmentation</text>
  <path class="lav" stroke-width="4" d="M1529,1413 H1676 L1693,1428 L1680,1440 L1690,1461 H1529 Z"/>
  <path class="lav" stroke-width="4" d="M1711,1413 H1769 V1461 H1721 L1714,1444 L1726,1428 Z"/>
  <text class="c" font-size="28" transform="translate(1537,1445) scale(0.79,1)">sEMG signal</text>
  <text class="c" x="1703" y="1440" font-size="14" text-anchor="middle">...</text>
  <rect class="dash" x="1533" y="1478" width="238" height="291" stroke-width="1.5"/>
  <rect class="lav" stroke-width="4" x="1541" y="1489" width="80" height="36"/>
  <text class="c" x="1581" y="1514" font-size="22" text-anchor="middle" textLength="53" lengthAdjust="spacingAndGlyphs">Epoch</text>
  <rect class="lav" stroke-width="4" x="1580" y="1544" width="80" height="36"/>
  <text class="c" x="1620" y="1569" font-size="22" text-anchor="middle" textLength="53" lengthAdjust="spacingAndGlyphs">Epoch</text>
  <rect class="lav" stroke-width="4" x="1615" y="1600" width="79" height="35"/>
  <text class="c" x="1654" y="1625" font-size="22" text-anchor="middle" textLength="53" lengthAdjust="spacingAndGlyphs">Epoch</text>
  <rect class="lav" stroke-width="4" x="1684" y="1725" width="79" height="36"/>
  <text class="c" x="1723" y="1750" font-size="22" text-anchor="middle" textLength="53" lengthAdjust="spacingAndGlyphs">Epoch</text>
  <path class="dot" stroke-width="1" d="M1658,1580V1643 M1615,1635V1674 M1694,1635V1674"/>
  <line x1="1616" y1="1643" x2="1657" y2="1643" stroke="#000" stroke-width="1.5" marker-start="url(#mo)" marker-end="url(#mo)"/>
  <text class="c" x="1637" y="1664" font-size="18" text-anchor="middle" font-weight="400">O</text>
  <line x1="1616" y1="1674" x2="1693" y2="1674" stroke="#000" stroke-width="1.5" marker-start="url(#mo)" marker-end="url(#mo)"/>
  <text class="c" x="1654" y="1695" font-size="18" text-anchor="middle">L</text>
  <text class="c" x="1700" y="1700" font-size="20" text-anchor="middle">...</text>
  <rect x="1772" y="1603" width="11" height="21" fill="#fcc72b" stroke="#444" stroke-width="1"/>
</g>

<text class="c" x="2574" y="1168" font-size="34" text-anchor="middle" textLength="357" lengthAdjust="spacingAndGlyphs" fill="#111">Reconstructed Epochs</text>

<g id="panel-a">
  <rect x="1824" y="1189" width="1502" height="172" fill="url(#gA)"/>
  <ellipse cx="1910" cy="1260" rx="17" ry="75" fill="#f6ead9" fill-opacity="0.8" stroke="#333" stroke-width="2" stroke-dasharray="3 3"/>
  <ellipse cx="2588" cy="1262" rx="17" ry="75" fill="#f6ead9" fill-opacity="0.8" stroke="#333" stroke-width="2" stroke-dasharray="3 3"/>
  <ellipse cx="3267" cy="1265" rx="17" ry="72" fill="#f6ead9" fill-opacity="0.8" stroke="#333" stroke-width="2" stroke-dasharray="3 3"/>
  <use href="#nA" stroke="#3a7fc0" transform="translate(1826,1308) scale(1.02,-0.45)"/>
  <use href="#nA" stroke="#3a7fc0" transform="translate(2326,1308) scale(-1.02,-0.5)"/>
  <use href="#nA" stroke="#3a7fc0" transform="translate(2326,1308) scale(1.02,0.45)"/>
  <use href="#nA" stroke="#3a7fc0" transform="translate(2826,1308) scale(-1.02,0.5)"/>
  <use href="#nA" stroke="#3a7fc0" transform="translate(2826,1308) scale(1.02,-0.45)"/>
  <use href="#nA" stroke="#3a7fc0" transform="translate(3326,1308) scale(-1.02,-0.45)"/>
  <use href="#bB" stroke="#3a7fc0" transform="translate(2120,1308) scale(1.7,-2.0)"/>
  <use href="#bB" stroke="#3a7fc0" transform="translate(2330,1308) scale(1.4,-2.2)"/>
  <use href="#bB" stroke="#3a7fc0" transform="translate(2250,1308) scale(1.2,-0.9)"/>
  <use href="#bB" stroke="#3a7fc0" transform="translate(2440,1308) scale(1.0,-0.8)"/>
  <use href="#bB" stroke="#3a7fc0" transform="translate(2660,1308) scale(1.5,-0.9)"/>
  <use href="#bB" stroke="#3a7fc0" transform="translate(2860,1308) scale(1.5,-1.0)"/>
  <use href="#bB" stroke="#3a7fc0" transform="translate(3010,1308) scale(1.4,-1.3)"/>
  <use href="#bB" stroke="#3a7fc0" transform="translate(3150,1308) scale(1.3,-1.4)"/>
  <path d="M1910,1262V1335 M2588,1272V1330 M3267,1282V1330" stroke="#3a7fc0" stroke-width="2"/>
  <rect x="1824" y="1189" width="1502" height="172" fill="none" stroke="#222" stroke-width="4"/>
  <circle cx="1851" cy="1226" r="21" fill="#fff" stroke="#000" stroke-width="4"/>
  <text class="c" x="1851" y="1236" font-size="28" text-anchor="middle">A</text>
  <line x1="2868" y1="1221" x2="1938" y2="1217" stroke="#b52a55" stroke-width="3" marker-end="url(#mr)"/>
  <line x1="2874" y1="1234" x2="2625" y2="1275" stroke="#b52a55" stroke-width="3" marker-end="url(#mr)"/>
  <line x1="2978" y1="1234" x2="3244" y2="1275" stroke="#b52a55" stroke-width="3" marker-end="url(#mr)"/>
  <text class="c" x="2926" y="1229" font-size="30" text-anchor="middle" textLength="91" lengthAdjust="spacingAndGlyphs">Spikes</text>
  <line x1="1912" y1="1275" x2="2586" y2="1275" stroke="#111" stroke-width="4" marker-start="url(#mb)" marker-end="url(#mb)"/>
  <text class="c" x="2257" y="1262" font-size="27" text-anchor="middle" textLength="200" lengthAdjust="spacingAndGlyphs">Epoch Length (L)</text>
</g>

<text class="c" x="2579" y="1410" font-size="34" text-anchor="middle" textLength="403" lengthAdjust="spacingAndGlyphs" fill="#111">Reconstruction Strategies</text>

<g id="panel-b">
  <rect x="1827" y="1433" width="737" height="520" fill="#fff" stroke="#000" stroke-width="7"/>
  <circle cx="1860" cy="1472" r="22" fill="#fff" stroke="#000" stroke-width="4"/>
  <text class="c" x="1860" y="1482" font-size="28" text-anchor="middle">B</text>
  <text class="c" x="2200" y="1473" font-size="36" text-anchor="middle" textLength="154" lengthAdjust="spacingAndGlyphs">Strategy 1</text>
  <text class="c" x="1962" y="1517" font-size="27" textLength="192" lengthAdjust="spacingAndGlyphs">Epoch Length: L</text>
  <line x1="1961" y1="1527" x2="2133" y2="1527" stroke="#000" stroke-width="3"/>
  <text class="c" x="2224" y="1517" font-size="27" textLength="187" lengthAdjust="spacingAndGlyphs">Overlap: O = L/2</text>
  <line x1="2225" y1="1527" x2="2323" y2="1527" stroke="#000" stroke-width="3"/>
  <text class="c" x="1835" y="1572" font-size="17" textLength="95" lengthAdjust="spacingAndGlyphs" fill="#222">Odd Epochs</text>
  <rect class="bar" x="1959" y="1547" width="537" height="47"/>
  <path class="dv" d="M2067,1549V1592 M2176,1549V1592 M2386,1549V1592"/>
  <text class="c" x="2012" y="1578" font-size="24" text-anchor="middle" textLength="77" lengthAdjust="spacingAndGlyphs" fill="#222">Epoch 1</text>
  <text class="c" x="2121" y="1578" font-size="24" text-anchor="middle" textLength="77" lengthAdjust="spacingAndGlyphs" fill="#222">Epoch 3</text>
  <text class="c" x="2281" y="1578" font-size="22" text-anchor="middle" fill="#222">...</text>
  <text class="c" x="2440" y="1578" font-size="19" text-anchor="middle" textLength="79" lengthAdjust="spacingAndGlyphs" fill="#222">Epoch N-1</text>
  <text class="c" x="1835" y="1642" font-size="17" textLength="116" lengthAdjust="spacingAndGlyphs" fill="#222">Spike Removal</text>
  <text class="c" x="1835" y="1664" font-size="17" textLength="38" lengthAdjust="spacingAndGlyphs" fill="#222">Filter</text>
  <rect x="1960" y="1618" width="538" height="46" fill="#fff" stroke="#111" stroke-width="4"/>
  <path class="pulse" d="M1963,1636 H2062 V1658 H2070 V1636 H2173 V1658 H2181 V1636 H2382 V1658 H2390 V1636 H2491 V1658"/>
  <text class="c" x="1835" y="1730" font-size="17" textLength="101" lengthAdjust="spacingAndGlyphs" fill="#222">Even Epochs</text>
  <rect class="bar" x="2009" y="1700" width="538" height="47"/>
  <path class="dv" d="M2117,1702V1745 M2225,1702V1745 M2438,1702V1745"/>
  <text class="c" x="2060" y="1733" font-size="24" text-anchor="middle" textLength="78" lengthAdjust="spacingAndGlyphs" fill="#222">Epoch 2</text>
  <text class="c" x="2170" y="1733" font-size="24" text-anchor="middle" textLength="78" lengthAdjust="spacingAndGlyphs" fill="#222">Epoch 4</text>
  <text class="c" x="2330" y="1733" font-size="22" text-anchor="middle" fill="#222">...</text>
  <text class="c" x="2491" y="1733" font-size="24" text-anchor="middle" textLength="83" lengthAdjust="spacingAndGlyphs" fill="#222">Epoch N</text>
  <text class="c" x="1837" y="1793" font-size="17" textLength="133" lengthAdjust="spacingAndGlyphs" fill="#222">Spike Subtitution</text>
  <text class="c" x="1837" y="1815" font-size="17" textLength="38" lengthAdjust="spacingAndGlyphs" fill="#222">Filter</text>
  <rect x="2009" y="1770" width="539" height="46" fill="#fff" stroke="#111" stroke-width="4"/>
  <path class="pulse" d="M2013,1805 H2062 V1783 H2070 V1805 H2173 V1783 H2181 V1805 H2383 V1783 H2390 V1805 H2492 V1783 H2500 V1805 H2546"/>
  <rect class="bar" x="1959" y="1858" width="590" height="47"/>
  <text class="c" font-size="28" fill="#222" transform="translate(2113,1893) scale(0.864,1)">Reconstructed</text>
  <text class="c" x="2305" y="1893" font-size="28" textLength="68" lengthAdjust="spacingAndGlyphs" fill="#222">sEMG</text>
  <g id="ops-b">
    <circle cx="2218" cy="1607" r="20" fill="#fbf7c6" stroke="#111" stroke-width="4"/>
    <text class="c" x="2218" y="1616" font-size="26" text-anchor="middle">×</text>
    <circle cx="2243" cy="1683" r="20" fill="#f2c9c9" stroke="#111" stroke-width="4"/>
    <path d="M2243,1672V1694 M2232,1683H2254" stroke="#111" stroke-width="5"/>
    <circle cx="2261" cy="1758" r="20" fill="#fbf7c6" stroke="#111" stroke-width="4"/>
    <text class="c" x="2261" y="1767" font-size="26" text-anchor="middle">×</text>
    <circle cx="2244" cy="1835" r="20" fill="#f2c9c9" stroke="#111" stroke-width="4"/>
    <rect x="2237" y="1824" width="5" height="22" fill="#111"/>
    <rect x="2246" y="1824" width="5" height="22" fill="#111"/>
  </g>
</g>

<g id="panel-c">
  <rect x="2590" y="1433" width="740" height="520" fill="#fff" stroke="#000" stroke-width="7"/>
  <circle cx="2626" cy="1470" r="22" fill="#fff" stroke="#000" stroke-width="4"/>
  <text class="c" x="2626" y="1480" font-size="28" text-anchor="middle">C</text>
  <text class="c" x="2978" y="1477" font-size="36" text-anchor="middle" textLength="157" lengthAdjust="spacingAndGlyphs">Strategy 2</text>
  <text class="c" x="2744" y="1519" font-size="27" textLength="192" lengthAdjust="spacingAndGlyphs">Epoch Length: L</text>
  <line x1="2741" y1="1529" x2="2914" y2="1529" stroke="#000" stroke-width="3"/>
  <text class="c" x="3004" y="1519" font-size="27" textLength="188" lengthAdjust="spacingAndGlyphs">Overlap: O &gt; L/2</text>
  <line x1="3006" y1="1529" x2="3105" y2="1529" stroke="#000" stroke-width="3"/>
  <g fill="#222">
    <rect class="bar" x="2635" y="1553" width="538" height="34" stroke-width="3.5"/>
    <path class="dv" d="M2745,1555V1585 M2853,1555V1585 M3064,1555V1585"/>
    <text class="c" x="2688" y="1577" font-size="18" text-anchor="middle" textLength="63" lengthAdjust="spacingAndGlyphs" fill="#333">Epoch 1</text>
    <text class="c" x="2799" y="1577" font-size="18" text-anchor="middle" textLength="83" lengthAdjust="spacingAndGlyphs" fill="#333">Epoch X+1</text>
    <text class="c" x="2958" y="1577" font-size="18" text-anchor="middle" fill="#333">...</text>
    <text class="c" x="3118" y="1577" font-size="18" text-anchor="middle" textLength="100" lengthAdjust="spacingAndGlyphs" fill="#333">Epoch N-X+1</text>
    <rect class="bar" x="2661" y="1600" width="538" height="34" stroke-width="3.5"/>
    <path class="dv" d="M2770,1602V1632 M2879,1602V1632 M3089,1602V1632"/>
    <text class="c" x="2715" y="1623" font-size="18" text-anchor="middle" textLength="63" lengthAdjust="spacingAndGlyphs" fill="#333">Epoch 2</text>
    <text class="c" x="2825" y="1623" font-size="18" text-anchor="middle" textLength="84" lengthAdjust="spacingAndGlyphs" fill="#333">Epoch X+2</text>
    <text class="c" x="2984" y="1623" font-size="18" text-anchor="middle" fill="#333">...</text>
    <text class="c" x="3144" y="1623" font-size="18" text-anchor="middle" textLength="100" lengthAdjust="spacingAndGlyphs" fill="#333">Epoch N-X+2</text>
    <rect class="bar" x="2691" y="1650" width="537" height="34" stroke-width="3.5"/>
    <path class="dv" d="M2800,1652V1682 M2909,1652V1682 M3118,1652V1682"/>
    <text class="c" x="2744" y="1673" font-size="18" text-anchor="middle" textLength="63" lengthAdjust="spacingAndGlyphs" fill="#333">Epoch 3</text>
    <text class="c" x="2854" y="1673" font-size="18" text-anchor="middle" textLength="84" lengthAdjust="spacingAndGlyphs" fill="#333">Epoch X+3</text>
    <text class="c" x="3012" y="1673" font-size="18" text-anchor="middle" fill="#333">...</text>
    <text class="c" x="3173" y="1673" font-size="18" text-anchor="middle" textLength="100" lengthAdjust="spacingAndGlyphs" fill="#333">Epoch N-X+3</text>
    <text class="c" x="3063" y="1712" font-size="22" text-anchor="middle" fill="#333">...</text>
    <rect class="bar" x="2769" y="1726" width="538" height="34" stroke-width="3.5"/>
    <path class="dv" d="M2879,1728V1758 M2988,1728V1758 M3198,1728V1758"/>
    <text class="c" x="2823" y="1751" font-size="25" text-anchor="middle" textLength="81" lengthAdjust="spacingAndGlyphs" fill="#333">Epoch X</text>
    <text class="c" x="2932" y="1748" font-size="18" text-anchor="middle" textLength="84" lengthAdjust="spacingAndGlyphs" fill="#333">Epoch X+X</text>
    <text class="c" x="3091" y="1748" font-size="18" text-anchor="middle" fill="#333">...</text>
    <text class="c" x="3254" y="1748" font-size="18" text-anchor="middle" textLength="66" lengthAdjust="spacingAndGlyphs" fill="#333">Epoch N</text>
  </g>
  <rect x="2632" y="1780" width="676" height="33" fill="#f2c6c6" stroke="#222" stroke-width="3"/>
  <text class="c" x="2984" y="1802" font-size="17" text-anchor="middle" textLength="55" lengthAdjust="spacingAndGlyphs" fill="#2a2a55">Median</text>
  <polygon points="2977,1813 3006,1813 3006,1827 3010,1827 2991.5,1843 2974,1827 2977,1827" fill="#f2c6c6" stroke="#444" stroke-width="2"/>
  <rect class="bar" x="2632" y="1853" width="676" height="46"/>
  <text class="c" x="2838" y="1887" font-size="28" textLength="183" lengthAdjust="spacingAndGlyphs" fill="#222">Reconstructed</text>
  <text class="c" x="3046" y="1887" font-size="28" textLength="74" lengthAdjust="spacingAndGlyphs" fill="#222">sEMG</text>
</g>

<!-- ===== connectors ===== -->
<g id="connectors">
  <polygon class="ya" points="417,545 494,545 494,531 523,569.5 494,608 494,591 417,591"/>
  <polygon class="ya" points="769,499 796,499 796,481 824,521 796,561 796,544 769,544"/>
  <polygon class="ya" points="1100,497 1151,497 1151,482 1182,521.5 1151,561 1151,542 1100,542"/>
  <polygon class="ya" points="1402,422 1414,422 1414,402 1431,432 1414,462 1414,445 1402,445"/>
  <polygon class="ya" points="1641,422 1651,422 1651,402 1666,432 1651,462 1651,445 1641,445"/>
  <polygon class="ya" points="1881,419 1907,419 1907,397 1938,436 1907,475 1907,455 1881,455"/>
  <polygon class="ya" points="2346,330 2363,330 2363,313 2389,353 2363,393 2363,373 2346,373"/>
  <polygon class="ya" points="1402,692 2359,692 2359,675 2389,713.5 2359,752 2359,735 1402,735"/>
  <polygon class="ya" points="2596,432 2633,432 2633,522 2649,522 2615,560 2580,522 2596,522"/>
  <polygon class="ya" points="2797,669 2866,669 2866,652 2893,690.5 2866,729 2866,712 2797,712"/>
  <polygon class="ra" points="710,1223 737,1223 737,1202 773,1241 737,1280 737,1259 710,1259"/>
  <polygon class="ra" points="1079,1356 1120,1356 1120,1382 1145,1382 1100.5,1413 1056,1382 1079,1382"/>
  <polygon class="ra" points="1083,1660 1122,1660 1122,1674 1147,1674 1104,1700 1061,1674 1083,1674"/>
  <polygon class="ra" points="766,1781 737,1781 737,1758 704,1797 737,1836 737,1812 766,1812"/>
</g>
</svg>
